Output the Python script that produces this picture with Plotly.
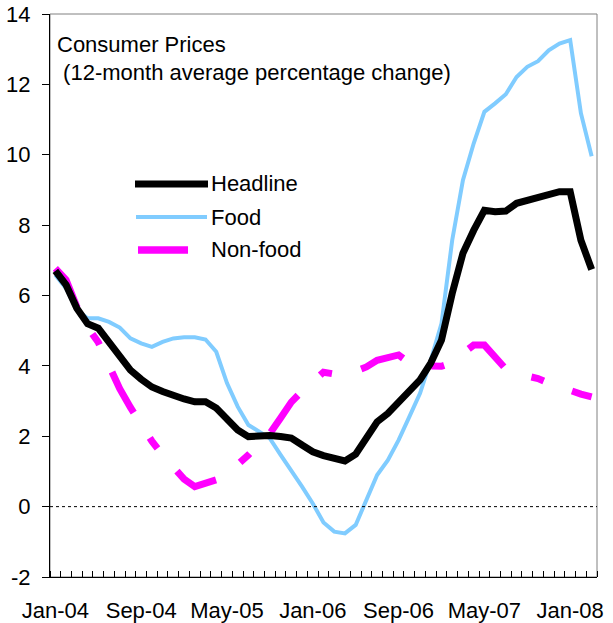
import numpy as np
import pandas as pd
import plotly.graph_objects as go

# ---- data -------------------------------------------------------------
months = pd.date_range("2004-01-01", "2008-03-01", freq="MS").strftime("%b-%y").tolist()

headline = [6.70, 6.30, 5.64, 5.20, 5.07, 4.68, 4.30, 3.88, 3.62, 3.40,
            3.27, 3.15, 3.06, 2.98, 2.98, 2.80, 2.46, 2.18, 1.99, 2.01,
            2.02, 1.99, 1.95, 1.75, 1.56, 1.45, 1.37, 1.30, 1.49, 1.95,
            2.41, 2.65, 2.98, 3.27, 3.60, 4.08, 4.73, 6.06, 7.20, 7.85,
            8.42, 8.38, 8.40, 8.62, 8.71, 8.79, 8.88, 8.95, 8.95, 7.57,
            6.74]

food = [6.58, 6.20, 5.59, 5.35, 5.35, 5.25, 5.09, 4.78, 4.64, 4.54,
        4.68, 4.78, 4.81, 4.81, 4.75, 4.40, 3.51, 2.84, 2.32, 2.13,
        1.94, 1.47, 1.04, 0.57, 0.09, -0.45, -0.71, -0.76, -0.52, 0.19,
        0.90, 1.32, 1.89, 2.55, 3.22, 4.16, 5.20, 7.57, 9.28, 10.32,
        11.22, 11.46, 11.72, 12.21, 12.50, 12.66, 12.97, 13.16, 13.26, 11.18,
        9.96]

nonfood = [6.77, 6.44, 5.68, 5.10, 4.67, 3.95, 3.35, 2.82, 2.33, 1.86,
           1.47, 1.12, 0.78, 0.57, 0.67, 0.76, 0.93, 1.19, 1.47, 1.78,
           2.08, 2.52, 2.97, 3.28, 3.54, 3.82, 3.77, 3.77, 3.85, 3.97,
           4.16, 4.22, 4.31, 4.08, 4.02, 4.00, 3.99, 4.09, 4.36, 4.59,
           4.59, 4.28, 3.91, 3.78, 3.71, 3.64, 3.51, 3.40, 3.28, 3.20,
           3.12]

series_names = ["Headline", "Food", "Non-food"]
label_step = 8
y_ticks = list(range(-2, 15, 2))
y_ticktext = [str(v) for v in y_ticks]

# ---- figure -----------------------------------------------------------
W, H = 613, 623
ML, MR, MT, MB = 50, 16, 14, 46
PW, PH = W - ML - MR, H - MT - MB

def px_x(p):
    return (p - ML) / PW

def px_y(p):
    return (H - MB - p) / PH

FONT = "Liberation Sans, Arial, sans-serif"
FS = 22
BLACK = "#000000"
BLUE = "#80CCFF"
MAGENTA = "#FF00FF"

x = np.arange(len(months))

fig = go.Figure()
fig.add_trace(go.Scatter(x=x, y=food, name=series_names[1], mode="lines",
                         line=dict(color=BLUE, width=4), showlegend=False))
fig.add_trace(go.Scatter(x=x, y=nonfood, name=series_names[2], mode="lines",
                         line=dict(color=MAGENTA, width=7, dash="46px,30px,13px,30px"),
                         showlegend=False))
fig.add_trace(go.Scatter(x=x, y=headline, name=series_names[0], mode="lines",
                         line=dict(color=BLACK, width=7), showlegend=False))

shapes = []
# plot frame (top/right grey)
shapes.append(dict(type="rect", xref="paper", yref="paper", x0=0, x1=1, y0=0, y1=1,
                   line=dict(color="#808080", width=1), layer="below"))
# dotted zero line
shapes.append(dict(type="line", xref="paper", yref="y", x0=0, x1=1, y0=0, y1=0,
                   line=dict(color=BLACK, width=1, dash="dot")))

# manual legend
leg = [
    (series_names[0], BLACK, 7, 135, 208, 184),
    (series_names[1], BLUE, 4, 136, 207, 217),
    (series_names[2], MAGENTA, 7.5, 138, 188, 250),
]
annotations = []
for name, col, w, xa, xb, yy in leg:
    shapes.append(dict(type="line", xref="paper", yref="paper",
                       x0=px_x(xa), x1=px_x(xb), y0=px_y(yy), y1=px_y(yy),
                       line=dict(color=col, width=w)))
    annotations.append(dict(xref="paper", yref="paper", x=px_x(209), y=px_y(yy),
                            xanchor="left", yanchor="middle", text=name, showarrow=False,
                            font=dict(family=FONT, size=FS, color=BLACK)))

annotations.append(dict(xref="paper", yref="paper", x=px_x(55), y=px_y(44),
                        xanchor="left", yanchor="middle", text="Consumer Prices",
                        showarrow=False, font=dict(family=FONT, size=FS, color=BLACK)))
annotations.append(dict(xref="paper", yref="paper", x=px_x(55), y=px_y(72),
                        xanchor="left", yanchor="middle",
                        text="&nbsp;(12-month average percentage change)",
                        showarrow=False, font=dict(family=FONT, size=FS, color=BLACK)))

fig.update_layout(
    width=W, height=H,
    margin=dict(l=ML, r=MR, t=MT, b=MB, pad=0, autoexpand=False),
    paper_bgcolor="white", plot_bgcolor="white",
    font=dict(family=FONT, size=FS, color=BLACK),
    shapes=shapes, annotations=annotations,
    showlegend=False,
)
fig.update_xaxes(
    automargin=False,
    range=[-0.5, len(months) - 0.5],
    tickmode="array",
    tickvals=list(x[::label_step]),
    ticktext=months[::label_step],
    ticks="", showgrid=False, zeroline=False,
    showline=True, linecolor=BLACK, linewidth=1,
    ticklabelstandoff=14, ticklabeloverflow="allow",
    tickfont=dict(family=FONT, size=FS, color=BLACK),
    minor=dict(tickmode="array", tickvals=list(np.arange(-0.5, len(months), 1.0)),
               ticks="inside", ticklen=6, tickcolor=BLACK, tickwidth=1, showgrid=False),
)
fig.update_yaxes(
    automargin=False,
    range=[-2, 14], tickmode="array", tickvals=y_ticks, ticktext=y_ticktext,
    ticks="outside", ticklen=7, tickcolor=BLACK, tickwidth=1,
    showgrid=False, zeroline=False,
    showline=True, linecolor=BLACK, linewidth=1,
    ticklabelstandoff=7, ticklabeloverflow="allow",
    tickfont=dict(family=FONT, size=FS, color=BLACK),
)

# remove the browser's default 8px body margin so the figure sits at the page origin
fig.write_html("out.html", config={"displayModeBar": False},
               post_script="document.body.style.margin='0';")
